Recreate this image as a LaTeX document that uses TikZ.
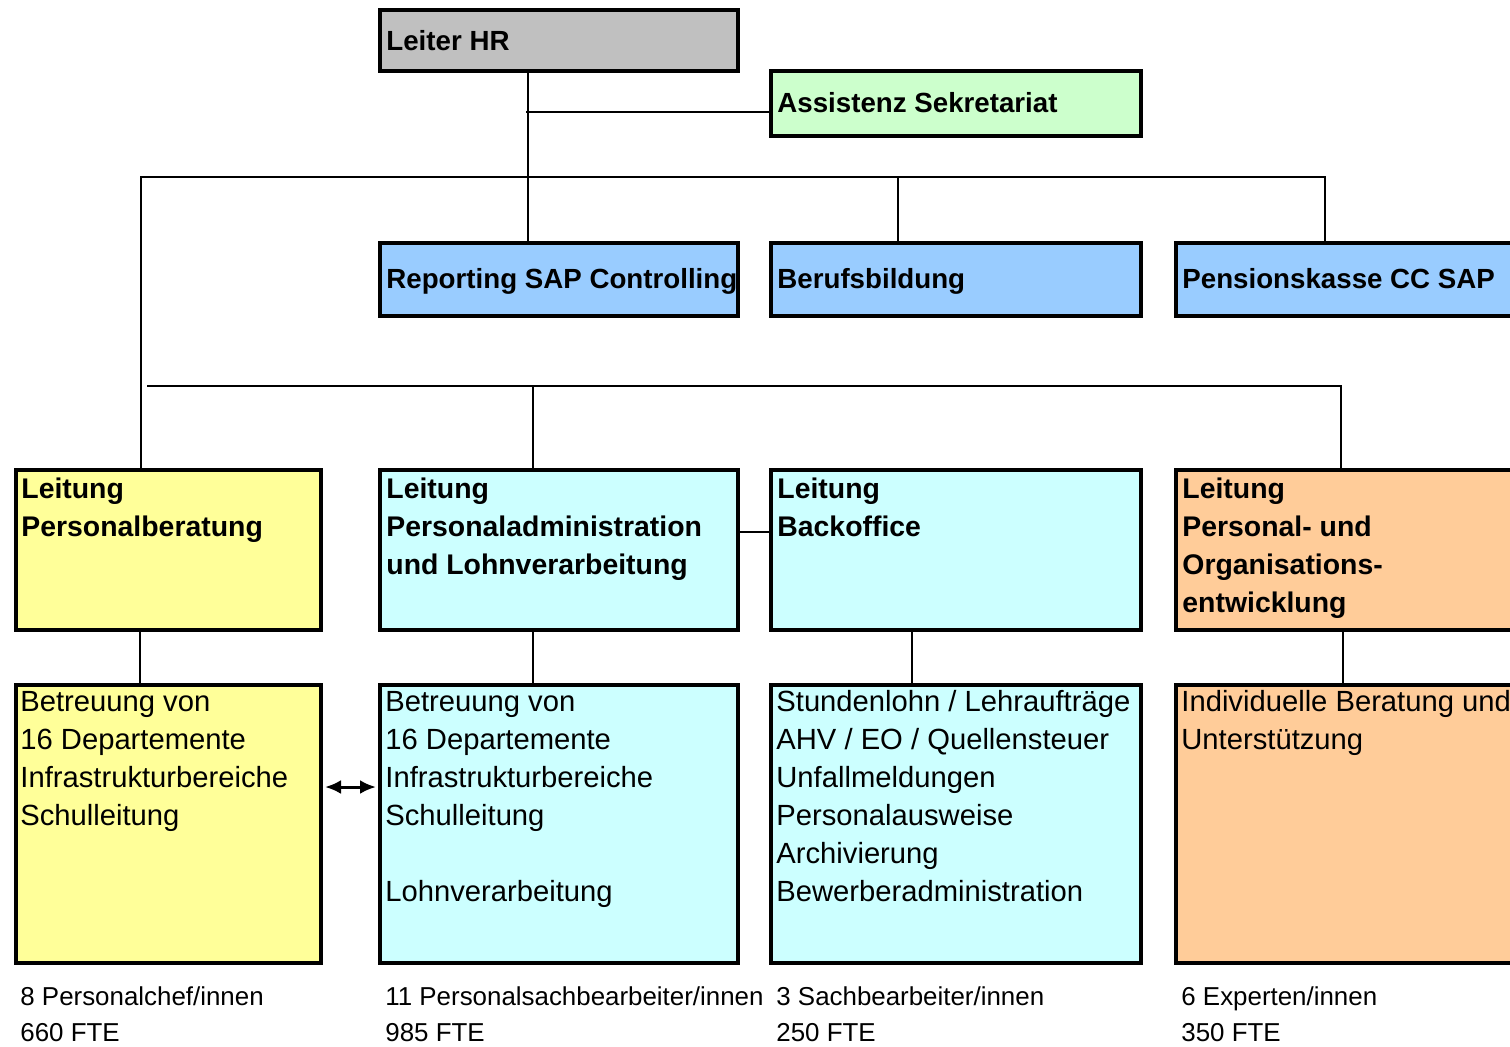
\documentclass[tikz,border=0pt]{standalone}
\usepackage{fontspec}
\setmainfont{Liberation Sans}
\usetikzlibrary{arrows.meta,calc,fit}

\definecolor{headgray}{HTML}{C0C0C0}
\definecolor{assistgreen}{HTML}{CCFFCC}
\definecolor{staffblue}{HTML}{99CCFF}
\definecolor{advyellow}{HTML}{FFFF99}
\definecolor{admincyan}{HTML}{CCFFFF}
\definecolor{devorange}{HTML}{FFCC99}

% lines of text, one node per line, first baseline at (#2,#3), 38px apart
\newcommand\textlines[5]{%
  \foreach [count=\k] \tl in {#5}
    \node[#4, anchor=base west, inner sep=0] (#1-\k) at (#2, {#3+38*(\k-1)}) {\tl};%
}

\begin{document}
\begin{tikzpicture}[x=0.5pt, y=-0.5pt,
  unitbox/.style={draw=black, line width=1.75pt, inner sep=0, outer sep=0},
  conn/.style={draw=black, line width=1pt},
  headfont/.style={font=\fontsize{13.85pt}{16pt}\selectfont\bfseries},
  leadfont/.style={font=\fontsize{14.2pt}{16pt}\selectfont\bfseries},
  bodyfont/.style={font=\fontsize{14.6pt}{16pt}\selectfont},
  footfont/.style={font=\fontsize{12.95pt}{15pt}\selectfont}]
\useasboundingbox (0,0) rectangle (1510,1046);
\clip (0,0) rectangle (1510,1046);

% --- boxes ---
\node[unitbox, fill=headgray,    fit={(380,10) (738,71)}]   (lhr) {};
\node[unitbox, fill=assistgreen, fit={(771,71) (1141,136)}] (as)  {};
\node[unitbox, fill=staffblue,   fit={(380,243) (738,316)}] (rep) {};
\node[unitbox, fill=staffblue,   fit={(771,243) (1141,316)}] (bb) {};
\node[unitbox, fill=staffblue,   fit={(1176,243) (1545,316)}] (pk) {};

\node[unitbox, fill=advyellow,  fit={(16,470) (321,630)}]   (pb) {};
\node[unitbox, fill=admincyan,  fit={(380,470) (738,630)}]  (pa) {};
\node[unitbox, fill=admincyan,  fit={(771,470) (1141,630)}] (bo) {};
\node[unitbox, fill=devorange,  fit={(1176,470) (1545,630)}] (po) {};

\node[unitbox, fill=advyellow,  fit={(16,685) (321,963)}]   (pb2) {};
\node[unitbox, fill=admincyan,  fit={(380,685) (738,963)}]  (pa2) {};
\node[unitbox, fill=admincyan,  fit={(771,685) (1141,963)}] (bo2) {};
\node[unitbox, fill=devorange,  fit={(1176,685) (1545,963)}] (po2) {};

% --- connectors ---
\coordinate (hrx) at (528,0);
\coordinate (asy) at (526,112);
\draw[conn] (lhr.south -| hrx) -- (rep.north -| hrx);
\draw[conn] (asy) -- (as.west |- asy);

\coordinate (busa) at (141,177);
\coordinate (busb) at (1325,177);
\coordinate (bbx)  at (898,177);
\draw[conn] (pb.north -| busa) -- (busa) -- (busb) -- (pk.north -| busb);
\draw[conn] (bbx) -- (bb.north -| bbx);

\coordinate (busc) at (147,386);
\coordinate (busd) at (1341,386);
\coordinate (pax)  at (533,386);
\draw[conn] (busc) -- (busd) -- (po.north -| busd);
\draw[conn] (pax) -- (pa.north -| pax);

\coordinate (linky) at (0,532);
\draw[conn] (pa.east |- linky) -- (bo.west |- linky);

\foreach \nm/\cx in {pb/140, pa/533, bo/912, po/1343}
  \draw[conn] (\nm.south -| {\cx,0}) -- (\nm2.north -| {\cx,0});

\coordinate (arry) at (0,787);
\draw[conn, line width=1.5pt, {Latex[length=8pt,width=7pt]}-{Latex[length=8pt,width=7pt]},
      shorten <=2pt, shorten >=2pt] (pb2.east |- arry) -- (pa2.west |- arry);

% --- texts ---
\textlines{lhrt}{386}{50}{headfont}{Leiter HR}
\textlines{ast}{777}{112}{headfont}{Assistenz Sekretariat}
\textlines{rept}{386}{288}{headfont}{Reporting SAP Controlling}
\textlines{bbt}{777}{288}{headfont}{Berufsbildung}
\textlines{pkt}{1182}{288}{headfont}{Pensionskasse CC SAP}

\textlines{pbt}{21}{498}{leadfont}{Leitung, Personalberatung}
\textlines{pat}{386}{498}{leadfont}{Leitung, Personaladministration, und Lohnverarbeitung}
\textlines{bot}{777}{498}{leadfont}{Leitung, Backoffice}
\textlines{pot}{1182}{498}{leadfont}{Leitung, Personal- und, Organisations-, entwicklung}

\textlines{pbb}{20}{711}{bodyfont}{Betreuung von, 16 Departemente, Infrastrukturbereiche, Schulleitung}
\textlines{pab}{385}{711}{bodyfont}{Betreuung von, 16 Departemente, Infrastrukturbereiche, Schulleitung, {}, Lohnverarbeitung}
\textlines{bob}{776}{711}{bodyfont}{{Stundenlohn / Lehraufträge}, {AHV / EO / Quellensteuer}, Unfallmeldungen, Personalausweise, Archivierung, Bewerberadministration}
\textlines{pob}{1181}{711}{bodyfont}{Individuelle Beratung und, Unterstützung}

% --- staffing figures ---
\node[footfont, anchor=base west, inner sep=0] (f1a) at (20,1005) {8 Personalchef/innen};
\node[footfont, anchor=base west, inner sep=0] (f1b) at (20,1041) {660 FTE};
\node[footfont, anchor=base west, inner sep=0] (f2a) at (385,1005) {11 Personalsachbearbeiter/innen};
\node[footfont, anchor=base west, inner sep=0] (f2b) at (385,1041) {985 FTE};
\node[footfont, anchor=base west, inner sep=0] (f3a) at (776,1005) {3 Sachbearbeiter/innen};
\node[footfont, anchor=base west, inner sep=0] (f3b) at (776,1041) {250 FTE};
\node[footfont, anchor=base west, inner sep=0] (f4a) at (1181,1005) {6 Experten/innen};
\node[footfont, anchor=base west, inner sep=0] (f4b) at (1181,1041) {350 FTE};
\end{tikzpicture}
\end{document}
